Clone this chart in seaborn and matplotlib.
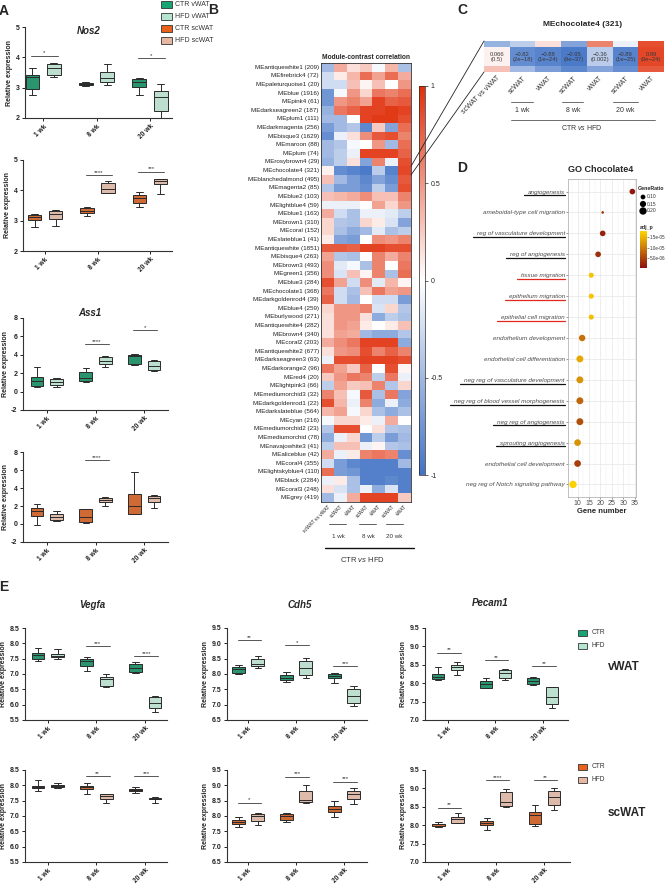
#make the WGCNA / qPCR composite figure (panels A-E)

import numpy as np
import pandas as pd
import matplotlib
matplotlib.use("Agg")
from matplotlib import pyplot as plt
from matplotlib.colors import LinearSegmentedColormap, Normalize
from matplotlib.patches import Rectangle
import matplotlib.cm as cm
import seaborn as sns

sns.set_style("ticks")
plt.rcParams['font.family'] = ['Liberation Sans', 'DejaVu Sans']
plt.rcParams['mathtext.fontset'] = 'custom'
plt.rcParams['mathtext.rm'] = 'Liberation Sans'
plt.rcParams['mathtext.it'] = 'Liberation Sans:italic'

W, H = 667, 885
weeks = ["1 wk", "8 wk", "20 wk"]

# ---------------- qPCR read-outs: (min, q1, median, q3, max) per week
nos2_v_ctr = [[2.75, 2.95, 3.35, 3.42, 3.65], [3.05, 3.10, 3.13, 3.17, 3.18], [2.75, 3.02, 3.18, 3.27, 3.32]]
nos2_v_hfd = [[3.35, 3.42, 3.65, 3.78, 3.80], [3.10, 3.20, 3.32, 3.52, 3.78], [2.00, 2.22, 2.70, 2.88, 3.12]]
nos2_v_sig = [(0, 4.05, "*"), (2, 3.98, "*")]
nos2_s_ctr = [[2.80, 3.03, 3.11, 3.20, 3.22], [3.16, 3.24, 3.33, 3.42, 3.44], [3.46, 3.57, 3.75, 3.86, 3.93]]
nos2_s_hfd = [[2.83, 3.05, 3.22, 3.31, 3.35], [3.90, 3.92, 4.04, 4.25, 4.32], [3.88, 4.20, 4.30, 4.36, 4.38]]
nos2_s_sig = [(1, 4.50, "****"), (2, 4.62, "***")]
ass1_v_ctr = [[0.52, 0.62, 1.15, 1.60, 2.65], [1.07, 1.12, 1.43, 2.16, 2.53], [2.89, 3.05, 3.90, 4.00, 4.06]]
ass1_v_hfd = [[0.50, 0.77, 1.05, 1.36, 1.50], [2.64, 2.96, 3.36, 3.80, 3.91], [2.23, 2.30, 2.82, 3.36, 3.44]]
ass1_v_sig = [(1, 5.15, "****"), (2, 6.65, "*")]
ass1_s_ctr = [[-0.10, 0.94, 1.45, 1.79, 2.24], [0.15, 0.19, 0.80, 1.62, 1.68], [1.08, 1.12, 2.05, 3.28, 5.77]]
ass1_s_hfd = [[0.38, 0.45, 0.80, 1.12, 1.50], [1.98, 2.42, 2.62, 2.87, 2.98], [1.79, 2.46, 2.85, 3.09, 3.17]]
ass1_s_sig = [(1, 7.07, "****")]

vegfa_v_ctr = [[7.43, 7.50, 7.62, 7.70, 7.85], [7.10, 7.25, 7.42, 7.50, 7.56], [7.04, 7.08, 7.20, 7.34, 7.39]]
vegfa_v_hfd = [[7.50, 7.55, 7.60, 7.64, 7.80], [6.58, 6.62, 6.85, 6.91, 7.00], [5.76, 5.88, 6.04, 6.26, 6.28]]
vegfa_v_sig = [(1, 7.90, "***"), (2, 7.58, "****")]
cdh5_v_ctr = [[7.99, 8.02, 8.15, 8.24, 8.28], [7.75, 7.81, 7.88, 7.97, 8.06], [7.70, 7.86, 7.93, 8.00, 8.03]]
cdh5_v_hfd = [[8.20, 8.27, 8.32, 8.50, 8.60], [7.87, 7.96, 8.18, 8.44, 8.52], [6.97, 7.06, 7.28, 7.52, 7.60]]
cdh5_v_sig = [(0, 9.10, "**"), (1, 8.94, "*"), (2, 8.26, "***")]
pecam1_v_ctr = [[8.09, 8.12, 8.18, 8.24, 8.43], [7.86, 7.88, 7.98, 8.05, 8.13], [7.95, 7.99, 8.07, 8.14, 8.16]]
pecam1_v_hfd = [[8.21, 8.36, 8.43, 8.49, 8.57], [8.09, 8.15, 8.27, 8.36, 8.38], [7.32, 7.44, 7.62, 7.89, 7.91]]
pecam1_v_sig = [(0, 8.83, "**"), (1, 8.63, "**"), (2, 8.47, "**")]

vegfa_s_ctr = [[7.82, 7.90, 7.94, 7.98, 8.16], [7.72, 7.87, 7.93, 7.98, 8.08], [7.74, 7.80, 7.85, 7.89, 7.96]]
vegfa_s_hfd = [[7.90, 7.95, 7.97, 8.00, 8.07], [7.42, 7.57, 7.66, 7.71, 7.73], [7.44, 7.54, 7.56, 7.58, 7.63]]
vegfa_s_sig = [(1, 8.30, "**"), (2, 8.31, "***")]
cdh5_s_ctr = [[7.64, 7.74, 7.82, 7.88, 7.97], [7.81, 7.86, 7.99, 8.06, 8.10], [7.97, 8.13, 8.22, 8.33, 8.50]]
cdh5_s_hfd = [[7.72, 7.85, 7.99, 8.06, 8.10], [8.42, 8.47, 8.53, 8.83, 9.00], [8.40, 8.57, 8.72, 8.82, 8.91]]
cdh5_s_sig = [(0, 8.44, "*"), (1, 9.28, "***"), (2, 9.12, "***")]
pecam1_s_ctr = [[7.94, 7.98, 8.02, 8.04, 8.08], [7.86, 8.01, 8.07, 8.12, 8.19], [7.97, 8.04, 8.27, 8.37, 8.55]]
pecam1_s_hfd = [[8.05, 8.07, 8.17, 8.23, 8.32], [8.49, 8.53, 8.64, 8.89, 8.98], [8.42, 8.55, 8.76, 8.93, 9.00]]
pecam1_s_sig = [(0, 8.48, "**"), (1, 9.23, "****"), (2, 9.23, "**")]

# ---------------- module-contrast correlation
module_names = ["MEantiquewhite1", "MEfirebrick4", "MEpaleturquoise1", "MEblue", "MEpink4",
                "MEdarkseagreen2", "MEplum1", "MEdarkmagenta", "MEbisque3", "MEmaroon", "MEplum",
                "MErosybrown4", "MEchocolate4", "MEblanchedalmond", "MEmagenta2", "MEblue2",
                "MElightblue4", "MEblue1", "MEbrown1", "MEcoral", "MEslateblue1", "MEantiquewhite",
                "MEbisque4", "MEbrown3", "MEgreen1", "MEblue3", "MEchocolate1", "MEdarkgoldenrod4",
                "MEblue4", "MEburlywood", "MEantiquewhite4", "MEbrown4", "MEcoral2", "MEantiquewhite2",
                "MEdarkseagreen3", "MEdarkorange2", "MEred4", "MElightpink3", "MEmediumorchid3",
                "MEdarkgoldenrod1", "MEdarkslateblue", "MEcyan", "MEmediumorchid2", "MEmediumorchid",
                "MEnavajowhite3", "MEaliceblue", "MEcoral4", "MElightskyblue4", "MEblack", "MEcoral3",
                "MEgrey"]
module_sizes = [209, 72, 20, 1916, 61, 187, 111, 256, 1629, 88, 74, 29, 321, 495, 85, 103, 59, 163,
                310, 152, 41, 1851, 263, 493, 356, 284, 368, 39, 259, 271, 282, 340, 203, 677, 63,
                96, 20, 66, 32, 22, 564, 216, 23, 78, 41, 42, 355, 110, 2284, 248, 419]
contrast_labels = ["scWAT vs vWAT", "scWAT", "vWAT", "scWAT", "vWAT", "scWAT", "vWAT"]
module_corr = [
    [-0.50, 0.40, 0.15, 0.25, -0.05, 0.35, -0.45],
    [-0.25, 0.10, 0.35, 0.70, 0.45, 0.70, 0.40],
    [-0.25, -0.25, 0.30, 0.05, 0.30, 0.00, 0.50],
    [-0.75, -0.05, 0.50, 0.20, 0.65, 0.60, 0.70],
    [-0.75, 0.50, 0.60, 0.45, 0.90, 0.75, 0.80],
    [-0.55, 0.65, 0.75, 0.90, 0.90, 0.95, 0.90],
    [-0.50, -0.50, 0.00, 0.90, 0.95, 0.95, 0.85],
    [-0.70, -0.50, -0.40, -0.85, 0.25, -0.65, 0.70],
    [-0.80, -0.10, 0.15, 0.55, 0.80, 0.85, 0.60],
    [-0.50, -0.40, -0.05, 0.00, 0.50, -0.50, 0.70],
    [-0.50, -0.35, -0.10, 0.90, 0.90, 0.90, 0.75],
    [-0.55, -0.35, 0.15, -0.65, 0.60, -0.10, 0.85],
    [0.066, -0.82, -0.88, -0.95, -0.36, -0.89, 0.89],
    [0.30, -0.50, -0.70, -0.85, -0.65, -0.80, 0.80],
    [-0.40, -0.70, -0.70, -0.80, -0.35, -0.70, 0.85],
    [0.30, 0.35, 0.40, 0.55, 0.30, 0.30, 0.60],
    [-0.10, -0.10, -0.10, 0.00, 0.45, 0.20, 0.50],
    [0.40, -0.25, -0.45, -0.10, -0.10, -0.15, -0.35],
    [0.20, -0.40, -0.45, 0.20, 0.10, -0.20, -0.65],
    [0.20, -0.45, -0.60, -0.50, -0.15, -0.45, -0.35],
    [0.10, -0.65, -0.70, 0.00, 0.55, 0.50, 0.60],
    [0.80, 0.80, 0.75, 0.90, 0.90, 0.85, 0.85],
    [0.45, -0.40, -0.45, 0.00, 0.60, 0.40, 0.60],
    [0.55, -0.15, -0.05, -0.45, 0.60, 0.00, 0.65],
    [0.55, -0.20, 0.30, 0.05, 0.60, -0.45, 0.70],
    [0.85, 0.45, -0.25, 0.55, -0.15, 0.35, 0.05],
    [0.65, -0.25, -0.45, 0.30, 0.65, 0.45, 0.50],
    [0.75, -0.25, -0.50, 0.00, -0.25, -0.25, -0.70],
    [0.20, 0.50, 0.50, 0.60, -0.20, 0.20, -0.40],
    [0.15, 0.50, 0.50, 0.15, -0.60, -0.35, -0.45],
    [0.15, 0.50, 0.45, 0.10, 0.00, 0.10, 0.30],
    [0.15, 0.45, 0.40, -0.50, -0.60, -0.60, -0.40],
    [0.40, 0.55, 0.65, 0.90, 0.90, 0.90, -0.60],
    [0.15, 0.50, 0.55, 0.85, 0.60, 0.75, 0.60],
    [-0.10, 0.85, 0.85, 0.90, 0.90, 0.90, 0.85],
    [0.65, 0.45, 0.25, 0.75, 0.00, 0.85, 0.05],
    [0.25, 0.50, 0.65, 0.60, -0.35, 0.65, -0.10],
    [-0.35, 0.45, 0.25, 0.30, 0.60, -0.40, 0.20],
    [0.60, 0.30, -0.05, 0.80, -0.45, 0.65, -0.65],
    [0.85, 0.35, -0.10, 0.60, -0.60, -0.10, -0.60],
    [0.35, 0.45, -0.05, 0.20, -0.45, -0.60, -0.45],
    [-0.05, 0.20, 0.20, 0.10, -0.10, 0.40, 0.00],
    [-0.40, 0.85, 0.85, 0.00, 0.15, -0.40, -0.45],
    [-0.60, -0.10, 0.20, -0.75, -0.35, -0.70, -0.50],
    [-0.35, 0.30, 0.30, -0.10, 0.05, -0.40, -0.45],
    [0.40, -0.10, 0.10, 0.60, 0.65, 0.60, -0.80],
    [-0.25, -0.70, -0.85, -0.90, -0.90, -0.90, -0.50],
    [0.70, -0.70, -0.75, -0.90, -0.90, -0.90, -0.90],
    [-0.10, 0.10, -0.45, -0.90, -0.90, -0.85, -0.90],
    [0.15, -0.20, -0.45, -0.10, -0.60, -0.20, -0.90],
    [-0.50, -0.10, 0.40, 0.90, 0.90, 0.90, 0.25],
]
choc_pvals = ["0.5", "2e-18", "1e-24", "9e-37", "0.002", "1e-25", "9e-24"]

# ---------------- GO enrichment of chocolate4
go_terms = ["angiogenesis", "ameboidal-type cell migration", "reg of vasculature development",
            "reg of angiogenesis", "tissue migration", "epithelium migration",
            "epithelial cell migration", "endothelium development",
            "endothelial cell differentiation", "neg reg of vasculature development",
            "neg reg of blood vessel morphogenesis", "neg reg of angiogenesis",
            "sprouting angiogenesis", "endothelial cell development",
            "neg reg of Notch signaling pathway"]
go_count = [34, 21, 21, 19, 16, 16, 16, 12, 11, 11, 11, 11, 10, 10, 8]
go_ratio = [0.13, 0.05, 0.13, 0.13, 0.11, 0.11, 0.11, 0.16, 0.18, 0.18, 0.18, 0.18, 0.17, 0.17, 0.20]
go_padj = [1.0e-6, 3.5e-6, 2.0e-6, 3.0e-6, 1.65e-5, 1.65e-5, 1.6e-5, 9.0e-6, 1.4e-5, 1.2e-5,
           8.0e-6, 6.0e-6, 1.2e-5, 4.5e-6, 1.75e-5]
go_mark = ["k", "", "k", "k", "r", "r", "r", "", "", "k", "k", "k", "k", "", ""]

green, mint = "#17a673", "#b6e5cf"
orange, peach = "#e8621c", "#e6b7a2"
corr_cmap = LinearSegmentedColormap.from_list("corr", ["#4273c6", "#ffffff", "#e0300c"])
padj_cmap = LinearSegmentedColormap.from_list("padj", ["#8b1010", "#ffd400"])
padj_norm = Normalize(2.4e-7, 1.79e-5)

fig = plt.figure(figsize=(W / 100, H / 100), dpi=100)


def px_axes(x0, y0, x1, y1):
    return fig.add_axes([x0 / W, 1 - y1 / H, (x1 - x0) / W, (y1 - y0) / H])


def five_to_long(ctr, hfd):
    rows = []
    for w, c, h in zip(weeks, ctr, hfd):
        rows += [(w, "CTR", v) for v in c]
        rows += [(w, "HFD", v) for v in h]
    return pd.DataFrame(rows, columns=["week", "diet", "value"])


def expr_panel(rect, ctr, hfd, pal, ylim, yticks, fmt, sigs, xlim):
    ax = px_axes(*rect)
    df = five_to_long(ctr, hfd)
    sns.boxplot(data=df, x="week", y="value", hue="diet", palette=pal, whis=(0, 100),
                width=0.8, gap=0.35, linewidth=0.7, linecolor="#2a2a2a",
                showfliers=False, legend=False, ax=ax)
    ax.set_xlim(*xlim)
    ax.set_ylim(*ylim)
    ax.set_yticks(yticks)
    ax.set_yticklabels([fmt.format(v) for v in yticks])
    ax.set_xticks(range(3))
    ax.set_xticklabels(weeks, rotation=45, ha="right", rotation_mode="anchor")
    ax.set_xlabel("")
    ax.set_ylabel("Relative expression", fontsize=5, fontweight="bold", labelpad=1.5)
    sns.despine(ax=ax)
    for s in ["left", "bottom"]:
        ax.spines[s].set_linewidth(0.8)
        ax.spines[s].set_color("#333333")
    ax.tick_params(length=2.5, width=0.7, labelsize=5, pad=1.5, colors="#222222")
    ax.tick_params(axis="x", labelsize=4.8, pad=1)
    for lab in ax.get_xticklabels() + ax.get_yticklabels():
        lab.set_fontweight("bold")
    for i, y, s in sigs:
        ax.plot([i - 0.22, i + 0.27], [y, y], color="#555555", lw=0.7, clip_on=False)
        ax.annotate(s, (i + 0.025, y), xytext=(0, 0.2), textcoords="offset points",
                    ha="center", va="bottom", fontsize=4.5, color="#333333")
    return ax


v_pal = {"CTR": green, "HFD": mint}
s_pal = {"CTR": orange, "HFD": peach}

# ---------------- panel A
expr_panel((25, 27, 172, 118), nos2_v_ctr, nos2_v_hfd, v_pal, (2, 5), [2, 3, 4, 5], "{:g}",
           nos2_v_sig, (-0.34, 2.41))
expr_panel((23, 160, 172, 251), nos2_s_ctr, nos2_s_hfd, s_pal, (2, 5), [2, 3, 4, 5], "{:g}",
           nos2_s_sig, (-0.42, 2.42))
expr_panel((23, 318, 168, 410), ass1_v_ctr, ass1_v_hfd, v_pal, (-2, 8), [-2, 0, 2, 4, 6, 8], "{:g}",
           ass1_v_sig, (-0.49, 2.49))
expr_panel((23, 452, 168, 542), ass1_s_ctr, ass1_s_hfd, s_pal, (-2, 8), [-2, 0, 2, 4, 6, 8], "{:g}",
           ass1_s_sig, (-0.49, 2.49))

# ---------------- panel E
expr_panel((25, 628, 167, 720), vegfa_v_ctr, vegfa_v_hfd, v_pal, (5.5, 8.5),
           [5.5, 6.0, 6.5, 7.0, 7.5, 8.0, 8.5], "{:.1f}", vegfa_v_sig, (-0.47, 2.45))
expr_panel((227, 628, 367, 720), cdh5_v_ctr, cdh5_v_hfd, v_pal, (6.5, 9.5),
           [6.5, 7.0, 7.5, 8.0, 8.5, 9.0, 9.5], "{:.1f}", cdh5_v_sig, (-0.44, 2.48))
expr_panel((425, 628, 568, 720), pecam1_v_ctr, pecam1_v_hfd, v_pal, (7.0, 9.5),
           [7.0, 7.5, 8.0, 8.5, 9.0, 9.5], "{:.1f}", pecam1_v_sig, (-0.48, 2.53))
expr_panel((25, 770, 167, 862), vegfa_s_ctr, vegfa_s_hfd, s_pal, (5.5, 8.5),
           [5.5, 6.0, 6.5, 7.0, 7.5, 8.0, 8.5], "{:.1f}", vegfa_s_sig, (-0.47, 2.45))
expr_panel((227, 770, 367, 862), cdh5_s_ctr, cdh5_s_hfd, s_pal, (6.5, 9.5),
           [6.5, 7.0, 7.5, 8.0, 8.5, 9.0, 9.5], "{:.1f}", cdh5_s_sig, (-0.44, 2.48))
expr_panel((425, 770, 570, 862), pecam1_s_ctr, pecam1_s_hfd, s_pal, (7.0, 9.5),
           [7.0, 7.5, 8.0, 8.5, 9.0, 9.5], "{:.1f}", pecam1_s_sig, (-0.48, 2.53))

# ---------------- panel B heatmap
corr = np.array(module_corr)
module_labels = [f"{n} ({c})" for n, c in zip(module_names, module_sizes)]
axB = px_axes(321, 63, 411, 502)
caxB = px_axes(419, 86, 425, 475)
sns.heatmap(corr, cmap=corr_cmap, vmin=-1, vmax=1, ax=axB, cbar_ax=caxB,
            xticklabels=contrast_labels, yticklabels=module_labels)
axB.tick_params(length=0, pad=1.5)
axB.set_yticklabels(module_labels, fontsize=4.5, rotation=0, color="#222222")
axB.set_xticklabels(contrast_labels, fontsize=3.6, rotation=45, ha="right",
                    rotation_mode="anchor", color="#222222")
axB.set_title("Module-contrast correlation", fontsize=4.8, fontweight="bold", pad=3)
for s in axB.spines.values():
    s.set_visible(True)
    s.set_linewidth(0.6)
    s.set_color("#333333")
cbar = axB.collections[0].colorbar
cbar.set_ticks([-1, -0.5, 0, 0.5, 1])
cbar.set_ticklabels(["-1", "-0.5", "0", "0.5", "1"])
cbar.outline.set_linewidth(0.5)
caxB.tick_params(labelsize=5, length=2, width=0.5, pad=2)

# ---------------- panel C strip
pick = [module_names.index(m) for m in ["MErosybrown4", "MEchocolate4", "MEblanchedalmond"]]
choc = corr[module_names.index("MEchocolate4")]
choc_annot = [f"{v:.2g}\n({p})".replace("-", "\u2212") for v, p in zip(choc, choc_pvals)]
annot = np.array([[""] * 7, choc_annot, [""] * 7])
axC = px_axes(484, 41, 664, 72)
sns.heatmap(corr[pick], cmap=corr_cmap, vmin=-1, vmax=1, annot=annot, fmt="",
            annot_kws={"fontsize": 4.2, "color": "#3a3a3a", "linespacing": 1.0},
            cbar=False, xticklabels=contrast_labels, yticklabels=False, ax=axC)
axC.set_ylim(2.3, 0.7)
axC.tick_params(length=0, pad=2)
axC.set_xticklabels(contrast_labels, fontsize=5, rotation=45, ha="right",
                    rotation_mode="anchor", color="#333333")

# ---------------- panel D dot plot
go_df = pd.DataFrame({"pos": range(len(go_terms)), "count": go_count,
                      "ratio": go_ratio, "padj": go_padj})
axD = px_axes(568, 179, 636, 497)
sns.scatterplot(data=go_df, x="count", y="pos", hue="padj", hue_norm=padj_norm,
                palette=padj_cmap, size="ratio", sizes=(2, 28), size_norm=(0.04, 0.20),
                legend=False, edgecolor="none", ax=axD, zorder=3)
axD.set_xlim(5.8, 35.6)
axD.set_ylim(len(go_terms) - 0.4, -0.6)
axD.set_xticks([10, 15, 20, 25, 30, 35])
axD.set_xticks([7.5, 12.5, 17.5, 22.5, 27.5, 32.5], minor=True)
axD.set_yticks(range(len(go_terms)))
axD.set_yticklabels(go_terms, fontsize=4.6, style="italic", color="#4d4d4d")
axD.set_axisbelow(True)
axD.grid(which="major", color="#e6e6e6", lw=0.5)
axD.grid(which="minor", axis="x", color="#f0f0f0", lw=0.3)
axD.tick_params(which="major", length=1.5, width=0.4, pad=0.8, colors="#4d4d4d", labelsize=5)
axD.tick_params(which="minor", length=0)
for lab in axD.get_yticklabels():
    lab.set_fontsize(4.6)
axD.set_xlabel("Gene number", fontsize=5.5, fontweight="bold", labelpad=0.5)
axD.set_ylabel("")
for s in axD.spines.values():
    s.set_visible(True)
    s.set_color("#b5b5b5")
    s.set_linewidth(0.6)

caxD = px_axes(640, 231, 647, 268)
cbD = fig.colorbar(cm.ScalarMappable(norm=padj_norm, cmap=padj_cmap), cax=caxD)
cbD.set_ticks([5e-6, 1e-5, 1.5e-5])
cbD.set_ticklabels(["5.0e-06", "1.0e-05", "1.5e-05"])
cbD.outline.set_visible(False)
caxD.tick_params(labelsize=3.3, length=1.2, width=0.4, colors="#333333", pad=0.8)

# ---------------- overlay for annotations in pixel coordinates
ov = fig.add_axes([0, 0, 1, 1], zorder=10)
ov.set_xlim(0, W)
ov.set_ylim(H, 0)
ov.axis("off")

for letter, x, y in [("A", 4, 11), ("B", 213, 10), ("C", 462, 10), ("D", 462, 168), ("E", 4, 587)]:
    ov.text(x, y, letter, fontsize=10, fontweight="bold", ha="center", va="center")

for name, x, y in [("Nos2", 89, 31), ("Ass1", 90, 313), ("Vegfa", 92, 605),
                   ("Cdh5", 300, 605), ("Pecam1", 490, 603)]:
    ov.text(x, y, name, fontsize=7, fontweight="bold", style="italic", ha="center", va="center")

# panel A legend
for lab, col, y in [("CTR vWAT", green, 4.5), ("HFD vWAT", mint, 16),
                    ("CTR scWAT", orange, 28), ("HFD scWAT", peach, 40)]:
    ov.add_patch(Rectangle((161, y - 3.5), 11, 7, facecolor=col, edgecolor="#333333", lw=0.6))
    ov.text(175, y, lab, fontsize=5, va="center", color="#333333")

# panel E legends and tissue labels
for y0, pal, tissue, ty in [(633, v_pal, "vWAT", 667), (767, s_pal, "scWAT", 813)]:
    for k, lab in enumerate(["CTR", "HFD"]):
        y = y0 + 12.5 * k
        ov.add_patch(Rectangle((578, y - 3), 9, 6, facecolor=pal[lab], edgecolor="#333333", lw=0.6))
        ov.text(592, y, lab, fontsize=4.8, va="center", color="#333333")
    ov.text(608, ty, tissue, fontsize=8.5, fontweight="bold", va="center")

# panel B group brackets
for (xa, xb), tx, lab in [((329, 346), 338, "1 wk"), ((359, 376), 368, "8 wk"), ((386, 403), 394, "20 wk")]:
    ov.plot([xa, xb], [524, 524], color="#444444", lw=0.6)
    ov.text(tx, 536, lab, fontsize=4.5, ha="center", va="center", color="#333333")
ov.plot([325, 414], [548, 548], color="#111111", lw=1.0)
ov.text(362, 559, "CTR $\\mathit{vs}$ HFD", fontsize=5.5, ha="center", va="center", color="#333333")

# panel C title, brackets and zoom lines
ov.text(583, 25, "MEchocolate4 (321)", fontsize=6, fontweight="bold", ha="center", va="center")
for (xa, xb), tx, lab in [((511, 533), 522, "1 wk"), ((562, 583), 573, "8 wk"), ((613, 638), 625, "20 wk")]:
    ov.plot([xa, xb], [102, 102], color="#555555", lw=0.6)
    ov.text(tx, 111, lab, fontsize=5, ha="center", va="center", color="#333333")
ov.plot([511, 655], [120, 120], color="#555555", lw=0.6)
ov.text(582, 128, "CTR $\\mathit{vs}$ HFD", fontsize=5, ha="center", va="center", color="#333333")
row_top = 63 + (502 - 63) / len(module_names) * module_names.index("MEchocolate4")
row_bot = row_top + (502 - 63) / len(module_names)
ov.plot([411, 484], [row_top, 41], color="#222222", lw=0.6)
ov.plot([411, 484], [row_bot, 72], color="#222222", lw=0.6)

# panel D title and legend
ov.text(568, 169, "GO Chocolate4", fontsize=6.5, fontweight="bold", ha="left", va="center")
ov.text(638, 188, "GeneRatio", fontsize=3.8, fontweight="bold", ha="left", va="center")
for r, y in [(0.10, 197), (0.15, 204), (0.20, 211)]:
    ov.scatter([643], [y], s=2 + 26 * (r - 0.04) / 0.16, color="black", edgecolor="none")
    ov.text(646.5, y, f"{r:.2f}", fontsize=3.5, va="center", color="#333333")
ov.text(640, 227, "adj_p", fontsize=3.8, fontweight="bold", ha="left", va="center")

# underline selected GO terms
fig.canvas.draw()
rend = fig.canvas.get_renderer()
for lab, mk in zip(axD.get_yticklabels(), go_mark):
    if not mk:
        continue
    bb = lab.get_window_extent(rend)
    yy = H - bb.y0 + 0.8
    ov.plot([bb.x0 - 4, bb.x1], [yy, yy], color="#111111" if mk == "k" else "#e0281e", lw=0.9)

plt.savefig("out.png", dpi=100)
